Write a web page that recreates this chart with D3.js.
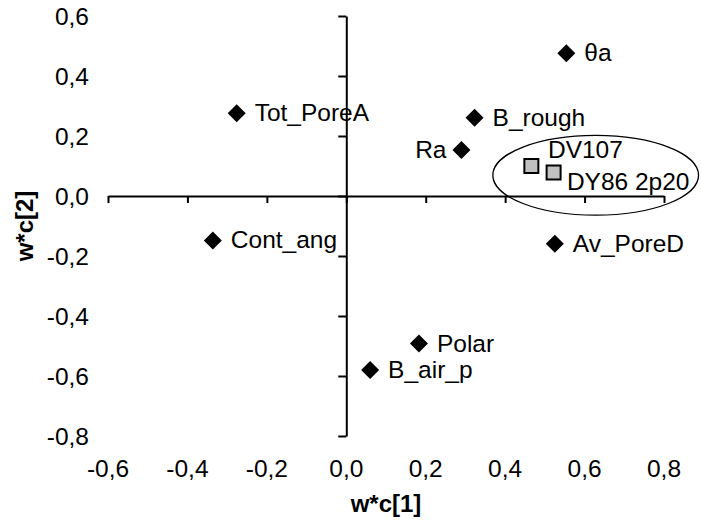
<!DOCTYPE html>
<html>
<head>
<meta charset="utf-8">
<script src="https://cdn.jsdelivr.net/npm/d3@7/dist/d3.min.js"></script>
<style>
  html, body { margin: 0; padding: 0; background: #fff; }
  svg { display: block; }
  text { font-family: "Liberation Sans", Arial, sans-serif; fill: #000; }
</style>
</head>
<body>
<svg id="chart" width="701" height="529"></svg>
<script>
// ---- data ----
const varNames = ["θa", "B_rough", "Ra", "Tot_PoreA", "Cont_ang", "Av_PoreD", "Polar", "B_air_p"];
const varX     = [0.554, 0.323, 0.290, -0.276, -0.336, 0.525, 0.183, 0.060];
const varY     = [0.476, 0.261, 0.153, 0.276, -0.148, -0.159, -0.492, -0.580];

const dyeNames = ["DV107", "DY86 2p20"];
const dyeX     = [0.466, 0.522];
const dyeY     = [0.100, 0.078];

const xTicks = [-0.6, -0.4, -0.2, 0.0, 0.2, 0.4, 0.6, 0.8];
const yTicks = [-0.8, -0.6, -0.4, -0.2, 0.0, 0.2, 0.4, 0.6];
const xTitle = "w*c[1]";
const yTitle = "w*c[2]";

// highlight ellipse (data coords): centre x, centre y, radius x, radius y
const ellipseC = [0.628, 0.069];
const ellipseR = [0.259, 0.133];

// ---- drawing ----
const svg = d3.select("#chart");
const x = d3.scaleLinear().domain([-0.6, 0.8]).range([108, 664]);
const y = d3.scaleLinear().domain([-0.8, 0.6]).range([436, 16]);
const fmt = d => (d < 0 ? "-" : "") + Math.abs(d).toFixed(1).replace(".", ",");
const FS = 24.5;

// x axis through y=0 (ticks only, downward)
const gx = svg.append("g").attr("transform", `translate(0,${y(0)})`)
  .call(d3.axisBottom(x).tickValues(xTicks).tickSize(7).tickSizeOuter(0).tickFormat(""));
gx.select(".domain").attr("stroke", "#000").attr("stroke-width", 2);
gx.selectAll(".tick line").attr("stroke", "#000").attr("stroke-width", 2);

// y axis through x=0 (ticks leftward)
const gy = svg.append("g").attr("transform", `translate(${x(0)},0)`)
  .call(d3.axisLeft(y).tickValues(yTicks).tickSize(8).tickSizeOuter(0).tickFormat(""));
gy.select(".domain").attr("stroke", "#000").attr("stroke-width", 2);
gy.selectAll(".tick line").attr("stroke", "#000").attr("stroke-width", 2);

// x tick labels at bottom
svg.append("g").selectAll("text").data(xTicks).join("text")
  .attr("x", d => x(d)).attr("y", 477)
  .attr("text-anchor", "middle").attr("font-size", FS)
  .text(fmt);

// y tick labels on the left
svg.append("g").selectAll("text").data(yTicks).join("text")
  .attr("x", 89).attr("y", d => y(d) + 8.5)
  .attr("text-anchor", "end").attr("font-size", FS)
  .text(fmt);

// axis titles
svg.append("text").attr("x", (x.range()[0] + x.range()[1]) / 2).attr("y", 512)
  .attr("text-anchor", "middle").attr("font-size", 24).attr("font-weight", "bold")
  .text(xTitle);
svg.append("text")
  .attr("transform", `translate(33,${(y.range()[0] + y.range()[1]) / 2}) rotate(-90)`)
  .attr("text-anchor", "middle").attr("font-size", 24).attr("font-weight", "bold")
  .text(yTitle);

// ellipse
svg.append("ellipse")
  .attr("cx", x(ellipseC[0])).attr("cy", y(ellipseC[1]))
  .attr("rx", x(ellipseC[0] + ellipseR[0]) - x(ellipseC[0]))
  .attr("ry", y(ellipseC[1] - ellipseR[1]) - y(ellipseC[1]))
  .attr("fill", "none").attr("stroke", "#000").attr("stroke-width", 1.3);

// variable points (black diamonds)
const vars = varNames.map((n, i) => ({ n, vx: varX[i], vy: varY[i] }));
const diamond = d3.symbol().type(d3.symbolSquare).size(162);
svg.append("g").selectAll("path").data(vars).join("path")
  .attr("d", diamond)
  .attr("transform", d => `translate(${x(d.vx)},${y(d.vy)}) rotate(45)`)
  .attr("fill", "#000");

svg.append("g").selectAll("text").data(vars).join("text")
  .attr("font-size", FS)
  .attr("text-anchor", d => d.n === "Ra" ? "end" : "start")
  .attr("x", d => d.n === "Ra" ? x(d.vx) - 15 : x(d.vx) + 18)
  .attr("y", d => y(d.vy) + 8)
  .text(d => d.n);

// dye points (grey squares)
const dyes = dyeNames.map((n, i) => ({ n, vx: dyeX[i], vy: dyeY[i] }));
const sq = d3.symbol().type(d3.symbolSquare).size(196);
svg.append("g").selectAll("path").data(dyes).join("path")
  .attr("d", sq)
  .attr("transform", d => `translate(${x(d.vx)},${y(d.vy)})`)
  .attr("fill", "#c0c0c0").attr("stroke", "#000").attr("stroke-width", 2);

const dyeOff = [[16.6, -8.4], [13.3, 17.7]];
svg.append("g").selectAll("text").data(dyes).join("text")
  .attr("font-size", FS)
  .attr("x", (d, i) => x(d.vx) + dyeOff[i][0])
  .attr("y", (d, i) => y(d.vy) + dyeOff[i][1])
  .text(d => d.n);
</script>
</body>
</html>
